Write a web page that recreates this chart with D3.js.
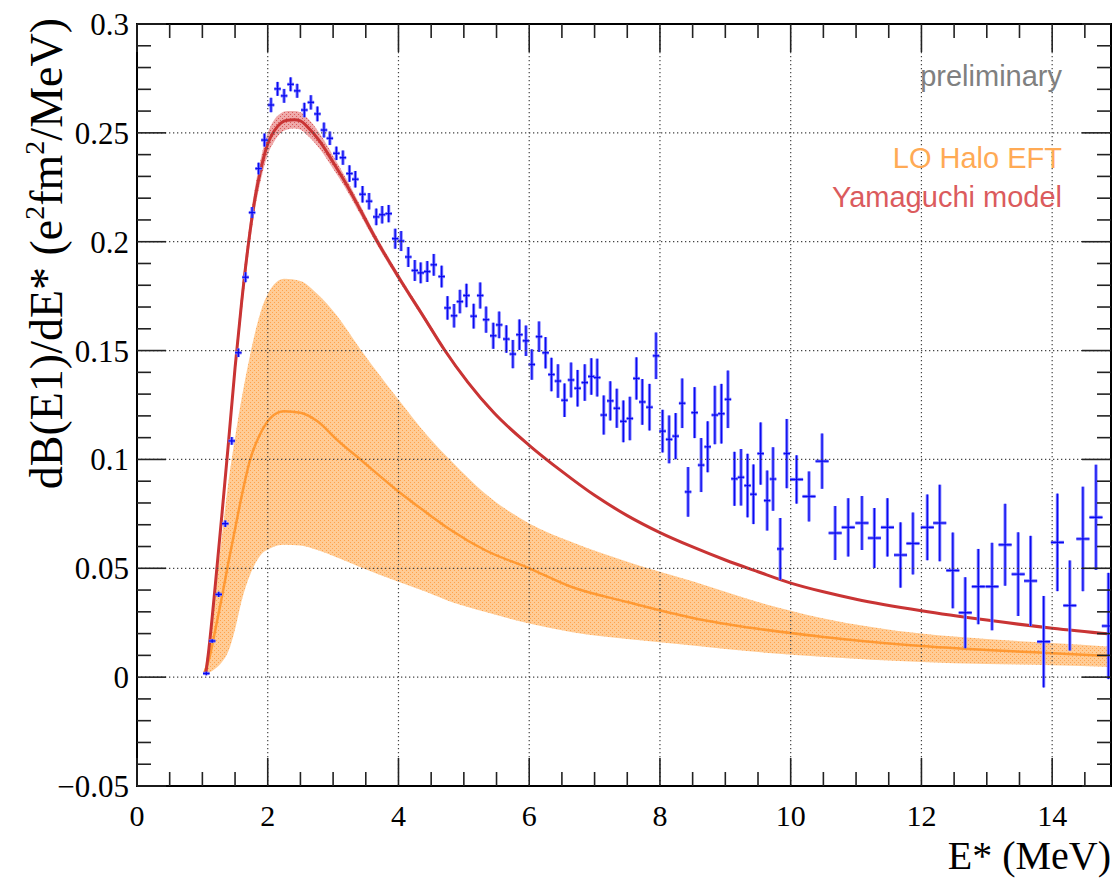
<!DOCTYPE html>
<html>
<head>
<meta charset="utf-8">
<script src="https://cdn.jsdelivr.net/npm/d3@7"></script>
<style>
  body { margin: 0; background: #fff; }
</style>
</head>
<body>
<svg id="chart"></svg>
<script>
// measured spectrum: E* (MeV), dB/dE, stat error, bin half width
const dataE = [1.06, 1.15, 1.25, 1.35, 1.45, 1.55, 1.66, 1.76, 1.86, 1.95,
  2.05, 2.15, 2.25, 2.35, 2.45, 2.56, 2.66, 2.76, 2.86, 2.95,
  3.05, 3.15, 3.25, 3.34, 3.45, 3.55, 3.66, 3.75, 3.85, 3.95,
  4.04, 4.15, 4.25, 4.34, 4.44, 4.54, 4.66, 4.75, 4.85, 4.94,
  5.04, 5.15, 5.25, 5.34, 5.45, 5.54, 5.65, 5.75, 5.85, 5.95,
  6.04, 6.15, 6.25, 6.34, 6.44, 6.54, 6.64, 6.74, 6.85, 6.95,
  7.04, 7.14, 7.24, 7.34, 7.44, 7.54, 7.64, 7.73, 7.84, 7.94,
  8.04, 8.14, 8.24, 8.34, 8.43, 8.53, 8.63, 8.73, 8.84, 8.94,
  9.04, 9.14, 9.24, 9.34, 9.43, 9.54, 9.64, 9.73, 9.84, 9.94,
  10.09, 10.28, 10.48, 10.68, 10.88, 11.09, 11.28, 11.48, 11.68, 11.87,
  12.09, 12.28, 12.48, 12.67, 12.87, 13.08, 13.28, 13.48, 13.67, 13.87,
  14.08, 14.27, 14.47, 14.67, 14.86];
const dataY = [0.0017, 0.0166, 0.038, 0.0705, 0.1085, 0.149, 0.1837, 0.2134, 0.2336, 0.2467,
  0.2628, 0.2702, 0.267, 0.2723, 0.2693, 0.2605, 0.264, 0.2587, 0.2513, 0.2475,
  0.2406, 0.2386, 0.2313, 0.2287, 0.2218, 0.2186, 0.2114, 0.2124, 0.2129, 0.2014,
  0.2003, 0.193, 0.1868, 0.1857, 0.1863, 0.1894, 0.184, 0.1696, 0.166, 0.1725,
  0.1753, 0.1658, 0.1753, 0.1642, 0.1568, 0.1618, 0.1553, 0.1484, 0.1573, 0.1545,
  0.1436, 0.1564, 0.149, 0.139, 0.136, 0.1272, 0.1365, 0.1327, 0.1353, 0.1381,
  0.1376, 0.1204, 0.1269, 0.1235, 0.1175, 0.1188, 0.1372, 0.1264, 0.124, 0.1476,
  0.113, 0.1092, 0.1107, 0.1258, 0.0851, 0.1215, 0.0974, 0.1058, 0.1204, 0.121,
  0.1276, 0.0911, 0.0918, 0.088, 0.084, 0.1027, 0.0811, 0.091, 0.0589, 0.1027,
  0.0908, 0.083, 0.0992, 0.0662, 0.0688, 0.0708, 0.0639, 0.0688, 0.0561, 0.0614,
  0.0688, 0.0708, 0.049, 0.0296, 0.0416, 0.0416, 0.0608, 0.0473, 0.0442, 0.0163,
  0.0619, 0.0329, 0.0635, 0.0734, 0.0235];
const dataErr = [0.0008, 0.0008, 0.0012, 0.0015, 0.0018, 0.002, 0.0023, 0.0025, 0.0027, 0.003,
  0.0033, 0.0032, 0.0032, 0.0032, 0.0032, 0.0033, 0.0033, 0.0034, 0.0034, 0.0031,
  0.0031, 0.0033, 0.0038, 0.0038, 0.0038, 0.0038, 0.0038, 0.004, 0.004, 0.0046,
  0.0046, 0.0046, 0.0048, 0.0048, 0.0048, 0.005, 0.005, 0.0054, 0.0054, 0.0054,
  0.0054, 0.0057, 0.006, 0.006, 0.006, 0.0061, 0.0063, 0.0065, 0.007, 0.007,
  0.007, 0.007, 0.0072, 0.0077, 0.0077, 0.0077, 0.008, 0.0084, 0.0084, 0.0084,
  0.0087, 0.009, 0.009, 0.009, 0.0096, 0.01, 0.0097, 0.0105, 0.0107, 0.0107,
  0.0098, 0.011, 0.0106, 0.0114, 0.0114, 0.0117, 0.0124, 0.0117, 0.0134, 0.0137,
  0.0132, 0.0124, 0.013, 0.0146, 0.0137, 0.0143, 0.0138, 0.0146, 0.0142, 0.0159,
  0.0111, 0.0115, 0.0127, 0.0124, 0.0134, 0.0124, 0.0138, 0.0134, 0.015, 0.0142,
  0.0151, 0.0176, 0.0174, 0.0163, 0.0173, 0.0201, 0.0188, 0.0192, 0.0207, 0.021,
  0.0224, 0.0207, 0.024, 0.0242, 0.0244];
const dataXErr = [0.05, 0.05, 0.05, 0.05, 0.05, 0.05, 0.05, 0.05, 0.05, 0.05,
  0.05, 0.05, 0.05, 0.05, 0.05, 0.05, 0.05, 0.05, 0.05, 0.05,
  0.05, 0.05, 0.05, 0.05, 0.05, 0.05, 0.05, 0.05, 0.05, 0.05,
  0.05, 0.05, 0.05, 0.05, 0.05, 0.05, 0.05, 0.05, 0.05, 0.05,
  0.05, 0.05, 0.05, 0.05, 0.05, 0.05, 0.05, 0.05, 0.05, 0.05,
  0.05, 0.05, 0.05, 0.05, 0.05, 0.05, 0.05, 0.05, 0.05, 0.05,
  0.05, 0.05, 0.05, 0.05, 0.05, 0.05, 0.05, 0.05, 0.05, 0.05,
  0.05, 0.05, 0.05, 0.05, 0.05, 0.05, 0.05, 0.05, 0.05, 0.05,
  0.05, 0.05, 0.05, 0.05, 0.05, 0.05, 0.05, 0.05, 0.05, 0.05,
  0.1, 0.1, 0.1, 0.1, 0.1, 0.1, 0.1, 0.1, 0.1, 0.1,
  0.1, 0.1, 0.1, 0.1, 0.1, 0.1, 0.1, 0.1, 0.1, 0.1,
  0.1, 0.1, 0.1, 0.1, 0.1];

// Yamaguchi model: central curve and band edges
const yamE = [1.05, 1.1, 1.2, 1.3, 1.4, 1.5, 1.6, 1.7, 1.8, 1.9, 2.0, 2.1, 2.2, 2.3, 2.4, 2.5, 2.6,
  2.8, 3.0, 3.2, 3.4, 3.65, 4.0, 4.4, 4.7, 5.06, 5.46, 6.0, 6.5, 7.0, 7.5, 8.0, 8.5, 9.0, 9.5,
  10.0, 10.5, 11.0, 12.0, 13.0, 14.0, 14.9];
const yamY = [0.001, 0.013, 0.043, 0.075, 0.108, 0.142, 0.172, 0.198, 0.219, 0.234, 0.245, 0.251, 0.2545, 0.2558, 0.256, 0.2555, 0.253,
  0.246, 0.2365, 0.2265, 0.2155, 0.2015, 0.1838, 0.1648, 0.1505, 0.1355, 0.1214, 0.1065, 0.0945, 0.0835, 0.0742, 0.0664, 0.0598, 0.0538, 0.0484,
  0.0432, 0.0392, 0.0358, 0.0305, 0.0262, 0.0225, 0.0198];
const yamLo = [0.0, 0.012, 0.041, 0.072, 0.104, 0.138, 0.167, 0.193, 0.214, 0.229, 0.240, 0.246, 0.250, 0.2515, 0.252, 0.2515, 0.249,
  0.2425, 0.2335, 0.224, 0.2133, 0.1997, 0.1823, 0.1636, 0.1495, 0.1347, 0.1207, 0.1059, 0.094, 0.0831, 0.0738, 0.0661, 0.0595, 0.0536, 0.0482,
  0.043, 0.039, 0.0356, 0.0303, 0.026, 0.0223, 0.0196];
const yamHi = [0.002, 0.014, 0.045, 0.078, 0.112, 0.146, 0.177, 0.203, 0.224, 0.239, 0.250, 0.256, 0.259, 0.260, 0.260, 0.2595, 0.257,
  0.2495, 0.2395, 0.229, 0.2177, 0.2033, 0.1853, 0.166, 0.1515, 0.1363, 0.1221, 0.1071, 0.095, 0.0839, 0.0746, 0.0667, 0.0601, 0.054, 0.0486,
  0.0434, 0.0394, 0.036, 0.0307, 0.0264, 0.0227, 0.02];

// LO Halo EFT: central curve and band edges
const eftE = [1.03, 1.1, 1.2, 1.3, 1.4, 1.5, 1.6, 1.73, 1.89, 2.04, 2.25, 2.5, 2.76, 3.06, 3.42, 4.0, 4.44, 4.8,
  5.32, 6.0, 6.64, 7.5, 8.5, 9.5, 10.47, 12.0, 13.0, 14.0, 14.9];
const eftY = [0.002, 0.008, 0.022, 0.037, 0.053, 0.068, 0.083, 0.0998, 0.112, 0.119, 0.1221, 0.1214, 0.1175, 0.109, 0.0999, 0.0853, 0.0753, 0.0676,
  0.0584, 0.050, 0.0415, 0.0345, 0.0272, 0.0222, 0.0186, 0.0143, 0.0125, 0.011, 0.0097];
const eftLo = [0.001, 0.002, 0.004, 0.007, 0.012, 0.022, 0.035, 0.047, 0.056, 0.0592, 0.0608, 0.0605, 0.0584, 0.055, 0.0505, 0.0438, 0.039, 0.0346,
  0.030, 0.0246, 0.0207, 0.0175, 0.0145, 0.0115, 0.0094, 0.007, 0.006, 0.0055, 0.0047];
const eftHi = [0.003, 0.015, 0.04, 0.065, 0.09, 0.11, 0.128, 0.148, 0.1676, 0.178, 0.183, 0.182, 0.176, 0.166, 0.1505, 0.1275, 0.111, 0.0995,
  0.0845, 0.0706, 0.0622, 0.053, 0.044, 0.0345, 0.0272, 0.020, 0.0175, 0.0157, 0.014];

const xTicks = [0, 2, 4, 6, 8, 10, 12, 14];
const yTicks = [-0.05, 0, 0.05, 0.1, 0.15, 0.2, 0.25, 0.3];
const legendLabels = ['preliminary', 'LO Halo EFT', 'Yamaguchi model'];

var W = 1116, H = 879;
var plot = { left: 137, right: 1111, top: 24, bottom: 786 };
var serif = '"Liberation Serif", "Times New Roman", "DejaVu Serif", serif';

var svg = d3.select('#chart').attr('width', W).attr('height', H);
svg.append('rect').attr('width', W).attr('height', H).attr('fill', '#fff');

var x = d3.scaleLinear().domain([0, 14.9]).range([plot.left, plot.right]);
var y = d3.scaleLinear().domain([-0.05, 0.3]).range([plot.bottom, plot.top]);

var defs = svg.append('defs');
defs.append('clipPath').attr('id', 'clip')
  .append('rect')
  .attr('x', plot.left).attr('y', plot.top)
  .attr('width', plot.right - plot.left).attr('height', plot.bottom - plot.top);

// fill patterns for the bands
var po = defs.append('pattern').attr('id', 'pat-eft')
  .attr('width', 4).attr('height', 4).attr('patternUnits', 'userSpaceOnUse');
po.append('rect').attr('width', 4).attr('height', 4).attr('fill', '#ffcc96');
po.append('rect').attr('x', 0).attr('y', 0).attr('width', 1).attr('height', 1).attr('fill', '#ffa24c');
po.append('rect').attr('x', 2).attr('y', 2).attr('width', 1).attr('height', 1).attr('fill', '#ffa24c');

var pr = defs.append('pattern').attr('id', 'pat-yam')
  .attr('width', 4).attr('height', 4).attr('patternUnits', 'userSpaceOnUse');
pr.append('rect').attr('width', 4).attr('height', 4).attr('fill', '#efaaaa');
pr.append('rect').attr('x', 0).attr('y', 0).attr('width', 1).attr('height', 1).attr('fill', '#d85a5a');
pr.append('rect').attr('x', 2).attr('y', 2).attr('width', 1).attr('height', 1).attr('fill', '#d85a5a');

var g = svg.append('g').attr('clip-path', 'url(#clip)');

function band(xs, lo, hi) {
  return d3.area()
    .x(function(d, i) { return x(xs[i]); })
    .y0(function(d, i) { return y(lo[i]); })
    .y1(function(d, i) { return y(hi[i]); })
    .curve(d3.curveMonotoneX)(xs);
}
function curve(xs, ys) {
  return d3.line()
    .x(function(d, i) { return x(xs[i]); })
    .y(function(d, i) { return y(ys[i]); })
    .curve(d3.curveMonotoneX)(xs);
}

// bands first
g.append('path').attr('d', band(eftE, eftLo, eftHi)).attr('fill', 'url(#pat-eft)');
g.append('path').attr('d', band(yamE, yamLo, yamHi)).attr('fill', 'url(#pat-yam)');

// dotted grid on major ticks
var grid = svg.append('g').attr('stroke', '#444').attr('stroke-width', 1.2)
  .attr('stroke-dasharray', '1.3,2.7');
grid.selectAll('.gx').data(xTicks.filter(function(v) { return v > 0; }))
  .enter().append('line')
  .attr('x1', function(d) { return x(d); }).attr('x2', function(d) { return x(d); })
  .attr('y1', plot.top).attr('y2', plot.bottom);
grid.selectAll('.gy').data(yTicks.filter(function(v) { return v > -0.05 && v < 0.3; }))
  .enter().append('line')
  .attr('y1', function(d) { return y(d); }).attr('y2', function(d) { return y(d); })
  .attr('x1', plot.left).attr('x2', plot.right);

// model curves
g.append('path').attr('d', curve(eftE, eftY))
  .attr('fill', 'none').attr('stroke', '#ff9933').attr('stroke-width', 2.5);
g.append('path').attr('d', curve(yamE, yamY))
  .attr('fill', 'none').attr('stroke', '#c93434').attr('stroke-width', 3);

// data points with error bars
var pts = dataE.map(function(e, i) {
  return { e: e, v: dataY[i], err: dataErr[i], xe: dataXErr[i] };
});
var pg = g.selectAll('.pt').data(pts).enter().append('g').attr('class', 'pt');
[['#7b7bff', 3.2], ['#0a0af0', 1.3]].forEach(function(st) {
  pg.append('line')
    .attr('x1', function(d) { return x(d.e); }).attr('x2', function(d) { return x(d.e); })
    .attr('y1', function(d) { return y(d.v - d.err); }).attr('y2', function(d) { return y(d.v + d.err); })
    .attr('stroke', st[0]).attr('stroke-width', st[1]);
  pg.append('line')
    .attr('x1', function(d) { return x(d.e - d.xe); }).attr('x2', function(d) { return x(d.e + d.xe); })
    .attr('y1', function(d) { return y(d.v); }).attr('y2', function(d) { return y(d.v); })
    .attr('stroke', st[0]).attr('stroke-width', st[1]);
});

// frame
svg.append('rect')
  .attr('x', plot.left).attr('y', plot.top)
  .attr('width', plot.right - plot.left).attr('height', plot.bottom - plot.top)
  .attr('fill', 'none').attr('stroke', '#000').attr('stroke-width', 2);

// ticks on all four sides
var ticks = svg.append('g').attr('stroke', '#222').attr('stroke-width', 1.6);
var xMinor = d3.range(0, 14.9, 0.5);
var yMinor = d3.range(-0.05, 0.3001, 0.01);
xMinor.forEach(function(v) {
  var len = Math.abs(v / 2 - Math.round(v / 2)) < 1e-6 ? 28 : 14;
  ticks.append('line').attr('x1', x(v)).attr('x2', x(v)).attr('y1', plot.bottom).attr('y2', plot.bottom - len);
  ticks.append('line').attr('x1', x(v)).attr('x2', x(v)).attr('y1', plot.top).attr('y2', plot.top + len);
});
yMinor.forEach(function(v) {
  var len = Math.abs(v / 0.05 - Math.round(v / 0.05)) < 1e-6 ? 29 : 14;
  ticks.append('line').attr('y1', y(v)).attr('y2', y(v)).attr('x1', plot.left).attr('x2', plot.left + len);
  ticks.append('line').attr('y1', y(v)).attr('y2', y(v)).attr('x1', plot.right).attr('x2', plot.right - len);
});

// tick labels
svg.append('g').selectAll('text').data(xTicks).enter().append('text')
  .attr('x', function(d) { return x(d); }).attr('y', 826)
  .attr('text-anchor', 'middle').attr('font-size', 30)
  .style('font-family', serif)
  .text(function(d) { return d; });
svg.append('g').selectAll('text').data(yTicks).enter().append('text')
  .attr('x', 129).attr('y', function(d) { return y(d) + 11; })
  .attr('text-anchor', 'end').attr('font-size', 31)
  .style('font-family', serif)
  .text(function(d) { return d < 0 ? '\u2212' + Math.abs(d) : String(d); });

// axis titles
svg.append('text')
  .attr('x', plot.right).attr('y', 869)
  .attr('text-anchor', 'end').attr('font-size', 40)
  .style('font-family', serif)
  .text('E* (MeV)');

var yt = svg.append('text')
  .attr('transform', 'translate(62,18) rotate(-90)')
  .attr('text-anchor', 'end').attr('font-size', 46)
  .style('font-family', serif);
yt.append('tspan').text('dB(E1)/dE* (e');
yt.append('tspan').attr('font-size', 28).attr('dy', -18).text('2');
yt.append('tspan').attr('dy', 18).text('fm');
yt.append('tspan').attr('font-size', 28).attr('dy', -18).text('2');
yt.append('tspan').attr('dy', 18).text('/MeV)');

// legend texts
var legColors = ['#808080', '#ffaa55', '#db5b5d'];
var legBase = [86, 168, 207];
svg.append('g').selectAll('text').data(legendLabels).enter().append('text')
  .attr('x', 1062).attr('y', function(d, i) { return legBase[i]; })
  .attr('text-anchor', 'end')
  .style('font-family', '"Liberation Sans", Arial, sans-serif')
  .attr('font-size', 29)
  .attr('fill', function(d, i) { return legColors[i]; })
  .text(function(d) { return d; });
</script>
</body>
</html>
